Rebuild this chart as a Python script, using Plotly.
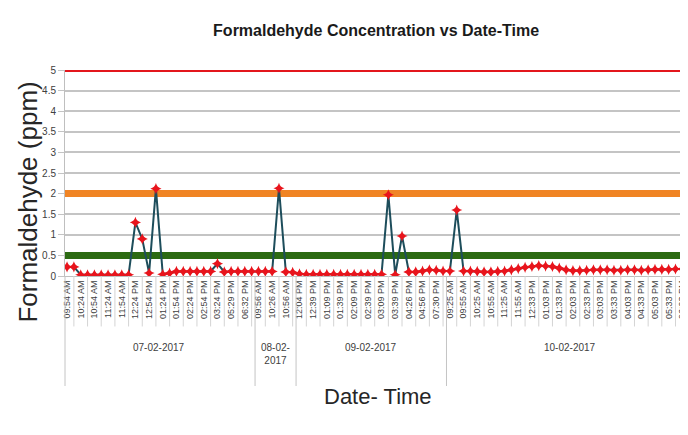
import plotly.graph_objects as go

# ---------------- data ----------------
dates = ["07-02-2017", "08-02-2017", "09-02-2017", "10-02-2017"]
group_sizes = [28, 6, 22, 36]

# tick labels shown (every second reading is labelled)
tick_labels = [
    "09:54 AM", "10:24 AM", "10:54 AM", "11:24 AM", "11:54 AM", "12:24 PM", "12:54 PM",
    "01:24 PM", "01:54 PM", "02:24 PM", "02:54 PM", "03:24 PM", "05:29 PM", "06:32 PM",
    "09:56 AM", "10:26 AM", "10:56 AM",
    "12:04 PM", "12:39 PM", "01:09 PM", "01:39 PM", "02:09 PM", "02:39 PM", "03:09 PM",
    "03:39 PM", "04:26 PM", "04:56 PM", "07:30 PM",
    "09:25 AM", "09:55 AM", "10:25 AM", "10:55 AM", "11:25 AM", "11:55 AM", "12:33 PM",
    "01:03 PM", "01:33 PM", "02:03 PM", "02:33 PM", "03:03 PM", "03:33 PM", "04:03 PM",
    "04:33 PM", "05:03 PM", "05:33 PM", "06:03 PM",
]

values_0702 = [0.22, 0.22, 0.03, 0.03, 0.03, 0.03, 0.03, 0.03, 0.03, 0.03,
               1.30, 0.90, 0.07, 2.12, 0.04, 0.07, 0.11, 0.11, 0.11, 0.11,
               0.11, 0.11, 0.30, 0.10, 0.11, 0.11, 0.11, 0.11]
values_0802 = [0.11, 0.11, 0.11, 2.13, 0.10, 0.09]
values_0902 = [0.05, 0.04, 0.04, 0.04, 0.04, 0.04, 0.04, 0.04, 0.04, 0.04,
               0.04, 0.04, 0.04, 1.97, 0.03, 0.97, 0.10, 0.10, 0.12, 0.15,
               0.14, 0.12]
values_1002 = [0.12, 1.60, 0.12, 0.12, 0.11, 0.10, 0.10, 0.11, 0.12, 0.15,
               0.18, 0.21, 0.23, 0.25, 0.24, 0.23, 0.19, 0.15, 0.13, 0.13,
               0.14, 0.15, 0.15, 0.15, 0.14, 0.14, 0.15, 0.15, 0.14, 0.15,
               0.16, 0.16, 0.16, 0.17, 0.17, 0.17]

limits = [5, 2, 0.5]
limit_colors = ["#e3161c", "#f08424", "#2c6a12"]
limit_widths = [4, 7, 7]

y_ticks = [0, 0.5, 1, 1.5, 2, 2.5, 3, 3.5, 4, 4.5, 5]

# ---------------- figure ----------------
values = values_0702 + values_0802 + values_0902 + values_1002
xs = list(range(len(values)))
x_end = xs[-1] + 1.0

fig = go.Figure()

# limit lines drawn as series spanning the whole category axis
for val, col, w in zip(limits, limit_colors, limit_widths):
    fig.add_trace(go.Scatter(
        x=[-0.3, x_end], y=[val, val], mode="lines",
        line=dict(color=col, width=w), showlegend=False, hoverinfo="skip",
    ))

fig.add_trace(go.Scatter(
    x=xs, y=values, mode="lines+markers",
    line=dict(color="#1d4d5b", width=2),
    marker=dict(symbol="star-diamond", size=8, color="#e8141c",
                line=dict(width=0)),
    showlegend=False,
))

sans = "Liberation Sans, Arial, sans-serif"

# tick separators between label pairs
for k in xs[1::2]:
    fig.add_shape(type="line", xref="x", yref="paper", x0=k, x1=k, y0=0, y1=-0.245,
                  line=dict(color="#d4d4d4", width=1))

# group dividers and date labels
start = 0
bottom_div = -0.534
fig.add_shape(type="line", xref="x domain", yref="paper", x0=0, x1=0, y0=0, y1=bottom_div,
              line=dict(color="#c4c4c4", width=1))
for d, size in zip(dates, group_sizes):
    end = start + size
    center = start + (size - 1) / 2
    text = d if size > 8 else d[:6] + "<br>" + d[6:]
    fig.add_annotation(x=center, xref="x", y=-0.31, yref="paper", text=text,
                       showarrow=False, yanchor="top",
                       font=dict(family=sans, size=10, color="#404040"))
    if end < len(values):
        fig.add_shape(type="line", xref="x", yref="paper", x0=end - 0.5, x1=end - 0.5,
                      y0=0, y1=bottom_div, line=dict(color="#c4c4c4", width=1))
    start = end

fig.add_annotation(text="Formaldehyde (ppm)", textangle=-90, xref="paper", yref="paper",
                   x=-0.059, y=0.36, showarrow=False, xanchor="center", yanchor="middle",
                   font=dict(family=sans, size=26, color="#262626"))
fig.add_annotation(text="Date- Time", xref="paper", yref="paper",
                   x=0.496, y=-0.585, showarrow=False, xanchor="center", yanchor="middle",
                   font=dict(family=sans, size=22, color="#262626"))

fig.update_layout(
    width=688, height=435,
    margin=dict(l=57, r=0, t=62, b=167),
    paper_bgcolor="white", plot_bgcolor="white",
    title=dict(text="<b>Formaldehyde Concentration vs Date-Time</b>",
               x=0.535, xref="container", xanchor="center",
               y=1 - 22 / 435, yref="container", yanchor="middle",
               font=dict(family=sans, size=16, color="#1a1a1a")),
    xaxis=dict(
        range=[-0.3, x_end],
        tickmode="array", tickvals=xs[::2], ticktext=tick_labels,
        tickangle=-90, tickfont=dict(family=sans, size=9, color="#404040"),
        showgrid=False, zeroline=False, ticks="",
        showline=True, linecolor="#bfbfbf", linewidth=1,
    ),
    yaxis=dict(
        range=[0, 5], tickmode="array", tickvals=y_ticks,
        showgrid=True, gridcolor="#c4c4c4", gridwidth=2,
        zeroline=False, showline=True, linecolor="#bfbfbf", linewidth=1,
        ticks="outside", ticklen=6, tickcolor="#c4c4c4",
        tickfont=dict(family=sans, size=10, color="#404040"),
    ),
)

fig.write_html("out.html")
